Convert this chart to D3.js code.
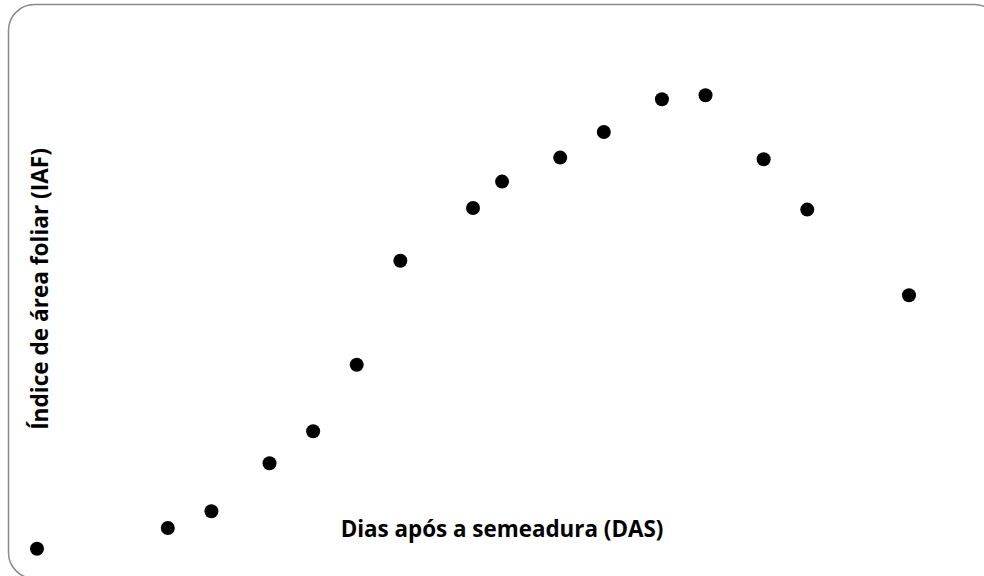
<!DOCTYPE html>
<html><head><meta charset="utf-8">
<script src="https://cdn.jsdelivr.net/npm/d3@7"></script>
<style>html,body{margin:0;padding:0;background:#fff;}svg{display:block;}</style>
</head><body>
<script>
const das = [10, 28, 34, 42, 48, 54, 60, 70, 74, 82, 88, 96, 102, 110, 116, 130];
const iaf = [0.14, 0.40, 0.61, 1.21, 1.61, 2.44, 3.74, 4.40, 4.73, 5.03, 5.35, 5.76, 5.81, 5.01, 4.38, 3.31];
const xTitle = "Dias após a semeadura (DAS)";
const yTitle = "Índice de área foliar (IAF)";

const W = 984, H = 576;
const svg = d3.select("body").append("svg").attr("width", W).attr("height", H);

svg.append("rect").attr("x", 8.5).attr("y", 4.5).attr("width", 992).attr("height", 574)
  .attr("rx", 26).attr("ry", 26).attr("fill", "none").attr("stroke", "#8a8a8a").attr("stroke-width", 1.5);

const x = d3.scaleLinear().domain([10, 130]).range([37, 909]);
const y = d3.scaleLinear().domain([0, 6]).range([560, 80]);

svg.selectAll("circle").data(das.map((d, i) => [d, iaf[i]])).join("circle")
  .attr("cx", d => x(d[0])).attr("cy", d => y(d[1])).attr("r", 7).attr("fill", "#000");

svg.append("text").attr("x", 502).attr("y", 537).attr("text-anchor", "middle")
  .attr("font-family", "'Open Sans', sans-serif").attr("font-weight", "bold").attr("font-size", 22.4)
  .attr("fill", "#000").text(xTitle);

svg.append("text").attr("transform", "translate(48,289) rotate(-90)").attr("text-anchor", "middle")
  .attr("font-family", "'Open Sans', sans-serif").attr("font-weight", "bold").attr("font-size", 22.6)
  .attr("fill", "#000").text(yTitle);
</script>
</body></html>
